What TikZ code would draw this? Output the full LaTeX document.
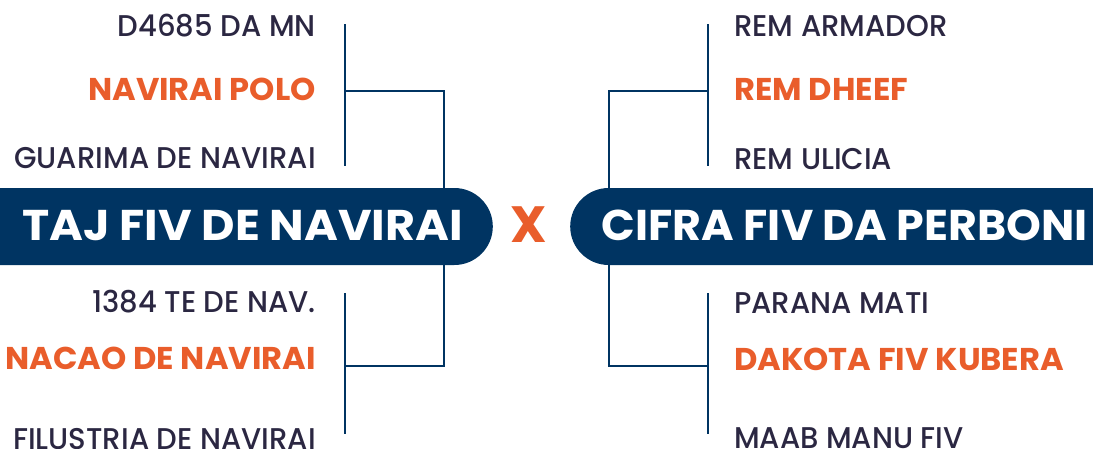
\documentclass[tikz,border=0pt]{standalone}
\usepackage{fontspec}
\setmainfont{Poppins}
\newfontfamily\medfont{Poppins Medium}
\usetikzlibrary{shapes.misc}
\definecolor{navy}{HTML}{003462}
\definecolor{accent}{HTML}{E95D2B}
\definecolor{ink}{HTML}{2B2742}
\begin{document}
\begin{tikzpicture}[x=1pt,y=-1pt,
  plain/.style={font=\fontsize{30}{30}\medfont, text=ink, inner sep=0pt, xscale=0.97},
  sire/.style={font=\fontsize{31.5}{31.5}\selectfont\bfseries, text=accent, inner sep=0pt, xscale=1.02},
  link/.style={draw=navy, line width=2.8pt},
  banner/.style={rounded rectangle, fill=navy, draw=none, minimum height=77pt, inner sep=0pt},
  bannertext/.style={font=\fontsize{43}{43}\selectfont\bfseries, text=white, inner sep=0pt},
  cross/.style={font=\fontsize{51}{51}\selectfont\bfseries, text=accent, inner sep=0pt}]
\useasboundingbox (0,0) rectangle (1093,448);

% bracket coordinates
\coordinate (la1) at (345,24);  \coordinate (la2) at (345,166);
\coordinate (lj1) at (345,91);  \coordinate (lk1) at (444,91);
\coordinate (lb1) at (345,293); \coordinate (lb2) at (345,434);
\coordinate (lj2) at (345,366); \coordinate (lk2) at (444,366);
\coordinate (ra1) at (708,24);  \coordinate (ra2) at (708,166);
\coordinate (rj1) at (708,91);  \coordinate (rk1) at (609,91);
\coordinate (rb1) at (708,293); \coordinate (rb2) at (708,434);
\coordinate (rj2) at (708,366); \coordinate (rk2) at (609,366);

% banners
\node[banner, rounded rectangle west arc=none, minimum width=533pt, anchor=east] (L) at (493,226.5) {};
\node[banner, rounded rectangle east arc=none, minimum width=560pt, anchor=west] (R) at (570,226.5) {};

% connectors
\draw[link] (la1) -- (la2);
\draw[link] (lj1) -- (lk1) -- (L.north -| lk1);
\draw[link] (lb1) -- (lb2);
\draw[link] (lj2) -- (lk2) -- (L.south -| lk2);
\draw[link] (ra1) -- (ra2);
\draw[link] (rj1) -- (rk1) -- (R.north -| rk1);
\draw[link] (rb1) -- (rb2);
\draw[link] (rj2) -- (rk2) -- (R.south -| rk2);

% banner labels
\node[bannertext, anchor=base west, xscale=1.07] (Lt) at (22,240) {TAJ FIV DE NAVIRAI};
\node[bannertext, anchor=base east, xscale=1.03] (Rt) at (1088,240) {CIFRA FIV DA PERBONI};
\node[cross] (X) at (529,225) {X};

% left names
\node[plain, anchor=base east] (l1) at (316,36) {D4685 DA MN};
\node[sire,  anchor=base east] (l2) at (316,100) {NAVIRAI POLO};
\node[plain, anchor=base east] (l3) at (316,168) {GUARIMA DE NAVIRAI};
\node[plain, anchor=base east] (l4) at (316,312) {1384 TE DE NAV.};
\node[sire,  anchor=base east] (l5) at (316,369) {NACAO DE NAVIRAI};
\node[plain, anchor=base east] (l6) at (316,449) {FILUSTRIA DE NAVIRAI};

% right names
\node[plain, anchor=base west] (r1) at (734,36) {REM ARMADOR};
\node[sire,  anchor=base west] (r2) at (734,100) {REM DHEEF};
\node[plain, anchor=base west] (r3) at (734,169) {REM ULICIA};
\node[plain, anchor=base west] (r4) at (734,313) {PARANA MATI};
\node[sire,  anchor=base west] (r5) at (734,370) {DAKOTA FIV KUBERA};
\node[plain, anchor=base west] (r6) at (734,448) {MAAB MANU FIV};
\end{tikzpicture}
\end{document}
